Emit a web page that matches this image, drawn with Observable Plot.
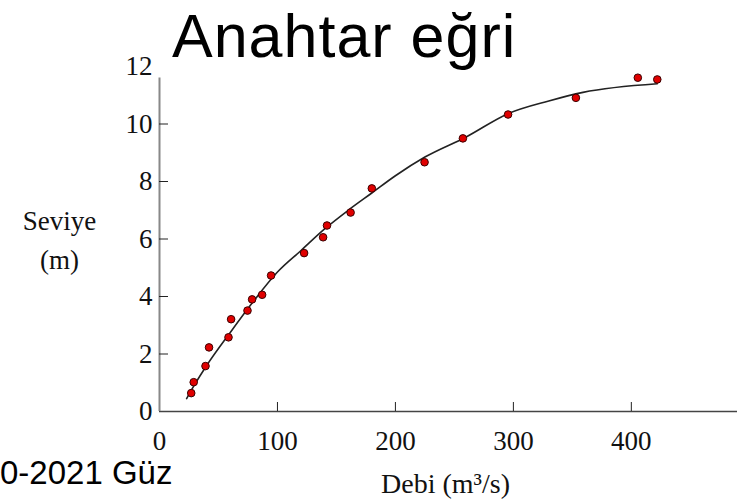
<!DOCTYPE html>
<html>
<head>
<meta charset="utf-8">
<script src="https://cdn.jsdelivr.net/npm/d3@7"></script>
<script src="https://cdn.jsdelivr.net/npm/@observablehq/plot@0.6"></script>
<style>
  html, body { margin: 0; padding: 0; background: #fff; }
  #wrap { position: relative; width: 737px; height: 500px; overflow: hidden; background: #fff; }
  #title { position: absolute; left: 172px; top: 2px; font-family: "Liberation Sans", Arial, sans-serif; font-size: 61px; line-height: 1.12; letter-spacing: 1px; color: #000; white-space: nowrap; }
  #foot { position: absolute; left: 0px; top: 461px; font-family: "Liberation Sans", Arial, sans-serif; font-size: 33px; line-height: 0.7; color: #000; white-space: nowrap; }
  #chart { position: absolute; left: 0; top: 0; }
</style>
</head>
<body>
<div id="wrap">
  <div id="chart"></div>
  <div id="title">Anahtar eğri</div>
  <div id="foot">0-2021 Güz</div>
</div>
<script>
// Measured points (Debi m3/s, Seviye m)
const debiPoints = [26.9, 29, 39, 42, 58.5, 60.7, 74.6, 78.5, 87, 94.6, 122.6, 138.7, 142, 162, 180, 224.7, 257.2, 295.5, 353, 405.5, 422];
const seviyePoints = [0.64, 1.02, 1.58, 2.23, 2.58, 3.21, 3.51, 3.9, 4.06, 4.73, 5.51, 6.06, 6.47, 6.92, 7.76, 8.67, 9.5, 10.33, 10.91, 11.61, 11.55];

// Fitted rating curve
const debiCurve = [23, 30, 40, 60, 80, 100, 120, 140, 160, 180, 200, 225, 260, 295, 330, 359, 422];
const seviyeCurve = [0.45, 0.95, 1.6, 2.75, 3.85, 4.85, 5.6, 6.35, 7.0, 7.6, 8.2, 8.85, 9.55, 10.35, 10.8, 11.1, 11.4];

// Tick labels
const xTicks = [0, 100, 200, 300, 400];
const xTickMarks = [100, 200, 300, 400];
const yTicks = [0, 2, 4, 6, 8, 10, 12];
const yTickMarks = [2, 4, 6, 8, 10];

const yLabel = "Seviye\n(m)";
const xLabel = "Debi (m³/s)";

const points = debiPoints.map((d, i) => ({debi: d, seviye: seviyePoints[i]}));
const curve = debiCurve.map((d, i) => ({debi: d, seviye: seviyeCurve[i]}));

const chart = Plot.plot({
  width: 737,
  height: 500,
  marginLeft: 159,
  marginRight: 0,
  marginTop: 66,
  marginBottom: 89,
  style: {fontFamily: "'Liberation Serif', 'Times New Roman', serif", fontSize: "27px", color: "#111", background: "transparent"},
  x: {domain: [0, 490], label: null},
  y: {domain: [0, 12], label: null},
  marks: [
    Plot.ruleY([0], {stroke: "#444", strokeWidth: 1.5}),
    Plot.ruleX([0], {y1: 0, y2: 11.6, stroke: "#888", strokeWidth: 2}),
    Plot.axisX({ticks: xTickMarks, tickSize: -9, tickFormat: () => "", stroke: "#222"}),
    Plot.axisX({ticks: xTicks, tickSize: 0, tickPadding: 19, fontSize: 27, fill: "#111"}),
    Plot.axisY({ticks: yTickMarks, tickSize: -9, tickFormat: () => "", stroke: "#222"}),
    Plot.axisY({ticks: yTicks, tickSize: 0, tickPadding: 7, fontSize: 27, fill: "#111"}),
    Plot.line(curve, {x: "debi", y: "seviye", stroke: "#222", strokeWidth: 1.6, curve: "monotone-x"}),
    Plot.dot(points, {x: "debi", y: "seviye", r: 3.8, fill: "#e00000", stroke: "#3a0000", strokeWidth: 1}),
    Plot.text([yLabel], {frameAnchor: "left", dx: -100, dy: -2, textAnchor: "middle", lineAnchor: "middle", lineHeight: 1.45, fontSize: 27, fill: "#111"}),
    Plot.text([xLabel], {frameAnchor: "bottom", dx: -3, dy: 73, textAnchor: "middle", lineAnchor: "middle", fontSize: 28, fill: "#111"})
  ]
});
document.getElementById("chart").appendChild(chart);
</script>
</body>
</html>
